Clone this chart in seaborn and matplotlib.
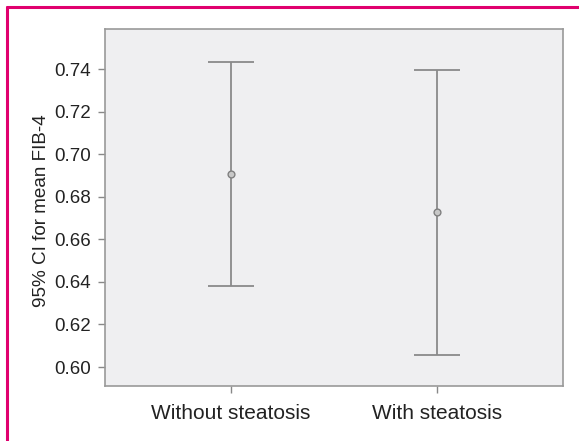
import matplotlib
matplotlib.use("Agg")
import matplotlib.pyplot as plt
import seaborn as sns
import pandas as pd
import numpy as np
from matplotlib.lines import Line2D

categories = ["Without steatosis", "With steatosis"]
means = [0.6907, 0.6728]
lower = [0.6381, 0.6056]
upper = [0.7433, 0.7397]
yticks = [0.60, 0.62, 0.64, 0.66, 0.68, 0.70, 0.72, 0.74]

df = pd.DataFrame({"group": categories, "mean": means, "lo": lower, "hi": upper})

sns.set_theme(style="white")
plt.rcParams["font.family"] = ["Liberation Sans", "DejaVu Sans"]

fig = plt.figure(figsize=(5.79, 4.41), dpi=100)
ax = fig.add_axes([105/579, 1-386/441, (563-105)/579, (386-29)/441])
ax.set_facecolor("#efeff1")

x = np.arange(len(categories))
yerr = np.vstack([df["mean"] - df["lo"], df["hi"] - df["mean"]])
ax.errorbar(x, df["mean"], yerr=yerr, fmt="none", ecolor="#8a8a8a",
            elinewidth=1.3, capsize=16.5, capthick=1.3, zorder=2)
sns.scatterplot(data=df, x="group", y="mean", ax=ax, s=24, color="#c8c8c8",
                edgecolor="#808080", linewidth=1.0, zorder=3, legend=False)

ax.set_xlim(-0.612, 1.612)
ax.set_ylim(0.5911, 0.7588)
ax.set_yticks(yticks)
ax.set_yticklabels([f"{v:.2f}" for v in yticks])
ax.set_xticks(x)
ax.set_xticklabels(categories)
ax.set_xlabel("")
ax.set_ylabel("95% CI for mean FIB-4", fontsize=13.6, color="#222222")
ax.yaxis.set_label_coords(-0.12, 0.49)
ax.tick_params(axis="both", which="major", direction="out", length=5, width=1,
               color="#888888", labelcolor="#222222", left=True, bottom=True)
ax.tick_params(axis="y", labelsize=13.5, pad=5)
ax.tick_params(axis="x", labelsize=15, pad=8)
for s in ax.spines.values():
    s.set_color("#999999")
    s.set_linewidth(1.2)

# decorative border of the figure (top and left)
fig.add_artist(Line2D([7/579, 1.0], [1-7/441, 1-7/441], color="#e0006e", lw=2.2,
                      transform=fig.transFigure))
fig.add_artist(Line2D([7/579, 7/579], [0.0, 1-7/441], color="#e0006e", lw=2.2,
                      transform=fig.transFigure))

fig.savefig("out.png", dpi=100, facecolor="white")
